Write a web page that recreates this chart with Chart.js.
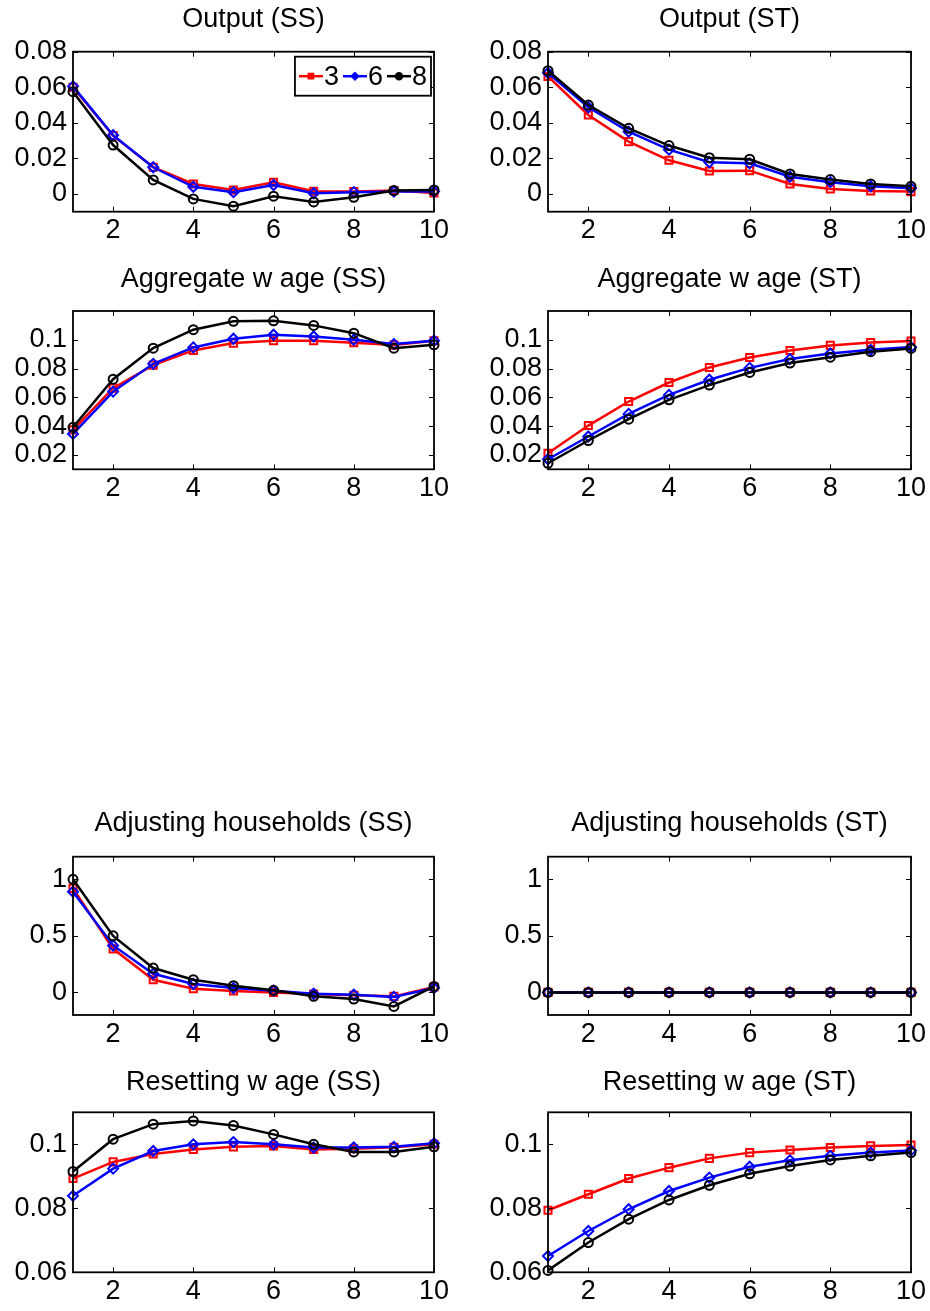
<!DOCTYPE html>
<html>
<head>
<meta charset="utf-8">
<title>Impulse responses (SS / ST)</title>
<script src="https://cdn.jsdelivr.net/npm/chart.js@4.4.1/dist/chart.umd.min.js"></script>
<style>
    body { margin: 0; background: #ffffff; }
    #page { position: relative; width: 930px; height: 1311px; }
    .panel { position: absolute; width: 465px; }
</style>
</head>
<body>
<div id="page"></div>
<script>
// periods on the horizontal axis
const periods = [1, 2, 3, 4, 5, 6, 7, 8, 9, 10];
const xTicks = [2, 4, 6, 8, 10];
const seriesNames = ['3', '6', '8'];

// y tick labels per row
const outputTicks = [0, 0.02, 0.04, 0.06, 0.08];
const wageTicks = [0.02, 0.04, 0.06, 0.08, 0.1];
const adjustTicks = [0, 0.5, 1];
const resetTicks = [0.06, 0.08, 0.1];

// Output (SS)
const outputSS3 = [0.0600, 0.0328, 0.0150, 0.0056, 0.0022, 0.0066, 0.0015, 0.0013, 0.0019, 0.0005];
const outputSS6 = [0.0605, 0.0330, 0.0150, 0.0040, 0.0010, 0.0050, 0.0004, 0.0010, 0.0013, 0.0013];
const outputSS8 = [0.0575, 0.0275, 0.0079, -0.0028, -0.0069, -0.0013, -0.0045, -0.0019, 0.0019, 0.0022];

// Output (ST)
const outputST3 = [0.0661, 0.0444, 0.0294, 0.0189, 0.0129, 0.0131, 0.0056, 0.0028, 0.0017, 0.0013];
const outputST6 = [0.0680, 0.0487, 0.0350, 0.0249, 0.0178, 0.0172, 0.0097, 0.0066, 0.0043, 0.0032];
const outputST8 = [0.0693, 0.0500, 0.0369, 0.0272, 0.0204, 0.0195, 0.0112, 0.0081, 0.0056, 0.0043];

// Aggregate wage (SS)
const wageSS3 = [0.0374, 0.0664, 0.0824, 0.0926, 0.0977, 0.0993, 0.0993, 0.0979, 0.0963, 0.0993];
const wageSS6 = [0.0346, 0.0640, 0.0833, 0.0947, 0.1007, 0.1035, 0.1023, 0.1000, 0.0970, 0.0993];
const wageSS8 = [0.0392, 0.0726, 0.0942, 0.1070, 0.1128, 0.1132, 0.1100, 0.1046, 0.0942, 0.0965];

// Aggregate wage (ST)
const wageST3 = [0.0212, 0.0404, 0.0571, 0.0703, 0.0808, 0.0877, 0.0926, 0.0961, 0.0981, 0.0991];
const wageST6 = [0.0170, 0.0328, 0.0485, 0.0617, 0.0722, 0.0805, 0.0866, 0.0905, 0.0930, 0.0949];
const wageST8 = [0.0142, 0.0300, 0.0448, 0.0583, 0.0685, 0.0773, 0.0838, 0.0879, 0.0917, 0.0940];

// Adjusting households (SS)
const adjustSS3 = [0.920, 0.385, 0.112, 0.032, 0.012, 0.000, -0.015, -0.026, -0.035, 0.047];
const adjustSS6 = [0.891, 0.415, 0.165, 0.074, 0.038, 0.015, -0.012, -0.021, -0.041, 0.038];
const adjustSS8 = [1.000, 0.500, 0.215, 0.112, 0.059, 0.018, -0.035, -0.059, -0.124, 0.053];

// Adjusting households (ST)
const adjustST3 = [0, 0, 0, 0, 0, 0, 0, 0, 0, 0];
const adjustST6 = [0, 0, 0, 0, 0, 0, 0, 0, 0, 0];
const adjustST8 = [0, 0, 0, 0, 0, 0, 0, 0, 0, 0];

// Resetting wage (SS)
const resetSS3 = [0.0893, 0.0945, 0.0970, 0.0984, 0.0992, 0.0995, 0.0984, 0.0986, 0.0991, 0.1000];
const resetSS6 = [0.0839, 0.0924, 0.0979, 0.1000, 0.1007, 0.1000, 0.0990, 0.0990, 0.0992, 0.1003];
const resetSS8 = [0.0915, 0.1016, 0.1063, 0.1073, 0.1059, 0.1031, 0.1000, 0.0976, 0.0976, 0.0992];

// Resetting wage (ST)
const resetST3 = [0.0794, 0.0844, 0.0893, 0.0927, 0.0956, 0.0974, 0.0982, 0.0990, 0.0995, 0.0998];
const resetST6 = [0.0651, 0.0729, 0.0797, 0.0854, 0.0896, 0.0930, 0.0950, 0.0964, 0.0974, 0.0981];
const resetST8 = [0.0606, 0.0693, 0.0766, 0.0826, 0.0872, 0.0908, 0.0932, 0.0951, 0.0964, 0.0974];

const FONT = '"Liberation Sans", Arial, Helvetica, sans-serif';
const FONT_SIZE = 27;

// line styles for the three series
const styles = [
    { color: '#ff0000', pointStyle: 'rect', radius: 5, order: 3 },
    { color: '#0000ff', pointStyle: 'rectRot', radius: 5, order: 2 },
    { color: '#000000', pointStyle: 'circle', radius: 4.5, order: 1 }
];

// rows of the figure (pixel layout of each canvas and its plot box)
const rows = [
    { top: 0, height: 250, plotTop: 51.7, plotBottom: 211.7, titleY: 20 },
    { top: 260, height: 250, plotTop: 51, plotBottom: 209.3, titleY: 20 },
    { top: 800, height: 260, plotTop: 56.7, plotBottom: 215, titleY: 24 },
    { top: 1060, height: 251, plotTop: 52.3, plotBottom: 212.3, titleY: 23 }
];
const cols = [
    { left: 0, axisWidth: 73, padRight: 31 },
    { left: 465, axisWidth: 83, padRight: 19 }
];

const panels = [
    { title: 'Output (SS)', row: 0, col: 0, series: [outputSS3, outputSS6, outputSS8], min: -0.01, max: 0.08, ticks: outputTicks, legend: true },
    { title: 'Output (ST)', row: 0, col: 1, series: [outputST3, outputST6, outputST8], min: -0.01, max: 0.08, ticks: outputTicks },
    { title: 'Aggregate w age (SS)', row: 1, col: 0, series: [wageSS3, wageSS6, wageSS8], min: 0.01, max: 0.12, ticks: wageTicks },
    { title: 'Aggregate w age (ST)', row: 1, col: 1, series: [wageST3, wageST6, wageST8], min: 0.01, max: 0.12, ticks: wageTicks },
    { title: 'Adjusting households (SS)', row: 2, col: 0, series: [adjustSS3, adjustSS6, adjustSS8], min: -0.2, max: 1.2, ticks: adjustTicks },
    { title: 'Adjusting households (ST)', row: 2, col: 1, series: [adjustST3, adjustST6, adjustST8], min: -0.2, max: 1.2, ticks: adjustTicks },
    { title: 'Resetting w age (SS)', row: 3, col: 0, series: [resetSS3, resetSS6, resetSS8], min: 0.06, max: 0.11, ticks: resetTicks },
    { title: 'Resetting w age (ST)', row: 3, col: 1, series: [resetST3, resetST6, resetST8], min: 0.06, max: 0.11, ticks: resetTicks }
];

// box around the plot with inward tick marks on all four sides
const framePlugin = {
    id: 'frame',
    afterDatasetsDraw(chart) {
        const { ctx, chartArea: a, scales } = chart;
        const len = 5;
        ctx.save();
        ctx.strokeStyle = '#000';
        ctx.lineWidth = 1.8;
        ctx.strokeRect(a.left, a.top, a.right - a.left, a.bottom - a.top);
        ctx.lineWidth = 1;
        ctx.beginPath();
        scales.x.ticks.forEach(t => {
            const px = Math.round(scales.x.getPixelForValue(t.value)) + 0.5;
            ctx.moveTo(px, a.bottom); ctx.lineTo(px, a.bottom - len);
            ctx.moveTo(px, a.top); ctx.lineTo(px, a.top + len);
        });
        scales.y.ticks.forEach(t => {
            const py = Math.round(scales.y.getPixelForValue(t.value)) + 0.5;
            ctx.moveTo(a.left, py); ctx.lineTo(a.left + len, py);
            ctx.moveTo(a.right, py); ctx.lineTo(a.right - len, py);
        });
        ctx.stroke();
        ctx.restore();
    }
};

// legend drawn inside the plot, top right, with a line + marker sample
const boxLegendPlugin = {
    id: 'boxLegend',
    afterDraw(chart) {
        const { ctx, chartArea: a } = chart;
        const sampleW = 24, gap = 1, itemGap = 4;
        ctx.save();
        ctx.font = FONT_SIZE + 'px ' + FONT;
        const items = chart.data.datasets.map(ds => ({ ds, w: ctx.measureText(ds.label).width }));
        const boxW = 4 + items.reduce((s, it) => s + sampleW + gap + it.w, 0) + itemGap * (items.length - 1) + 4;
        const boxH = 39;
        const right = a.right - 3, top = a.top + 5;
        const left = right - boxW;
        ctx.fillStyle = '#fff';
        ctx.fillRect(left, top, boxW, boxH);
        ctx.strokeStyle = '#000';
        ctx.lineWidth = 1.8;
        ctx.strokeRect(left, top, boxW, boxH);
        let x = left + 4;
        const cy = top + boxH / 2;
        items.forEach(it => {
            ctx.strokeStyle = it.ds.borderColor;
            ctx.lineWidth = 2.5;
            ctx.beginPath();
            ctx.moveTo(x, cy); ctx.lineTo(x + sampleW, cy);
            ctx.stroke();
            ctx.fillStyle = it.ds.borderColor;
            Chart.helpers.drawPoint(ctx, { pointStyle: it.ds.pointStyle, radius: 3, borderWidth: 1.5, rotation: 0 }, x + sampleW / 2, cy);
            ctx.fillStyle = '#000';
            ctx.textBaseline = 'middle';
            ctx.textAlign = 'left';
            ctx.fillText(it.ds.label, x + sampleW + gap, cy + 1);
            x += sampleW + gap + it.w + itemGap;
        });
        ctx.restore();
    }
};

function buildChart(p) {
    const row = rows[p.row], col = cols[p.col];
    const div = document.createElement('div');
    div.className = 'panel';
    div.style.left = col.left + 'px';
    div.style.top = row.top + 'px';
    div.style.height = row.height + 'px';
    const canvas = document.createElement('canvas');
    div.appendChild(canvas);
    document.getElementById('page').appendChild(div);

    const lineH = FONT_SIZE * 1.2;
    const datasets = p.series.map((values, i) => ({
        label: seriesNames[i],
        data: periods.map((x, k) => ({ x: x, y: values[k] })),
        borderColor: styles[i].color,
        backgroundColor: 'transparent',
        borderWidth: 2.5,
        pointStyle: styles[i].pointStyle,
        pointRadius: styles[i].radius,
        pointBorderWidth: 2,
        pointBackgroundColor: 'transparent',
        pointBorderColor: styles[i].color,
        tension: 0,
        clip: false,
        order: styles[i].order
    }));

    new Chart(canvas, {
        type: 'line',
        data: { datasets },
        options: {
            responsive: true,
            maintainAspectRatio: false,
            animation: false,
            events: [],
            layout: { padding: { left: 0, right: col.padRight, top: 0, bottom: 0 } },
            plugins: {
                legend: { display: false },
                tooltip: { enabled: false },
                title: {
                    display: true,
                    text: p.title,
                    color: '#000',
                    fullSize: false,
                    font: { family: FONT, size: FONT_SIZE, weight: 'normal', lineHeight: 1.2 },
                    padding: { top: row.titleY - lineH / 2, bottom: row.plotTop - row.titleY - lineH / 2 }
                }
            },
            scales: {
                x: {
                    type: 'linear',
                    min: 1,
                    max: 10,
                    grid: { display: false, drawTicks: false },
                    border: { display: false },
                    afterBuildTicks: s => { s.ticks = xTicks.map(v => ({ value: v })); },
                    afterFit: s => { s.height = row.height - row.plotBottom; },
                    ticks: {
                        color: '#000',
                        padding: 3,
                        maxRotation: 0,
                        font: { family: FONT, size: FONT_SIZE },
                        callback: v => String(v)
                    }
                },
                y: {
                    min: p.min,
                    max: p.max,
                    grid: { display: false, drawTicks: false },
                    border: { display: false },
                    afterBuildTicks: s => { s.ticks = p.ticks.map(v => ({ value: v })); },
                    afterFit: s => { s.width = col.axisWidth; },
                    ticks: {
                        color: '#000',
                        padding: 6,
                        font: { family: FONT, size: FONT_SIZE },
                        callback: v => String(v)
                    }
                }
            }
        },
        plugins: p.legend ? [framePlugin, boxLegendPlugin] : [framePlugin]
    });
}

panels.forEach(buildChart);
</script>
</body>
</html>
